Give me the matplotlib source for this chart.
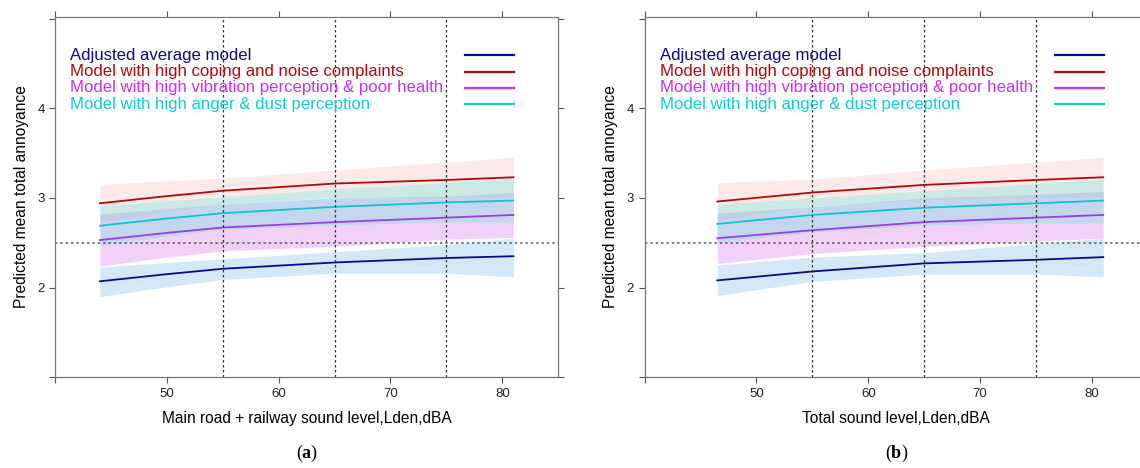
import numpy as np
import matplotlib
matplotlib.use("Agg")
import matplotlib.pyplot as plt

plt.rcParams['font.family'] = ['Liberation Sans', 'DejaVu Sans']
plt.rcParams['mathtext.fontset'] = 'custom'
plt.rcParams['mathtext.rm'] = 'Liberation Serif'
plt.rcParams['mathtext.bf'] = 'Liberation Serif:bold'

# model names, colours
labels = ["Adjusted average model",
          "Model with high coping and noise complaints",
          "Model with high vibration perception & poor health",
          "Model with high anger & dust perception"]
line_cols = ["#0A0A8C", "#B00A0A", "#9B3BF0", "#10C8D2"]
key_cols = ["#0A0A8C", "#B00A0A", "#CC2EF5", "#10CCD6"]
band_cols = ["#76B6E8", "#F8BCBC", "#D469EE", "#5AE8D7"]

# (a) main road + railway
xa = [44, 50, 55, 65, 75, 81]
a_fit = [[2.07, 2.15, 2.21, 2.28, 2.33, 2.35],
         [2.94, 3.02, 3.08, 3.16, 3.20, 3.23],
         [2.53, 2.61, 2.67, 2.73, 2.78, 2.81],
         [2.69, 2.77, 2.83, 2.90, 2.95, 2.97]]
a_lo = [[1.90, 2.01, 2.09, 2.16, 2.16, 2.12],
        [2.73, 2.85, 2.93, 3.01, 3.00, 3.01],
        [2.24, 2.34, 2.41, 2.46, 2.54, 2.56],
        [2.47, 2.57, 2.65, 2.70, 2.73, 2.73]]
a_hi = [[2.23, 2.28, 2.32, 2.40, 2.48, 2.55],
        [3.15, 3.19, 3.22, 3.31, 3.40, 3.45],
        [2.82, 2.88, 2.93, 3.00, 3.02, 3.06],
        [2.91, 2.97, 3.01, 3.10, 3.17, 3.21]]

# (b) total sound level
xb = [46.5, 55, 65, 75, 81]
b_fit = [[2.08, 2.18, 2.27, 2.31, 2.34],
         [2.96, 3.06, 3.145, 3.20, 3.23],
         [2.55, 2.64, 2.73, 2.78, 2.81],
         [2.71, 2.81, 2.89, 2.94, 2.97]]
b_lo = [[1.91, 2.07, 2.15, 2.15, 2.12],
        [2.75, 2.91, 2.98, 3.00, 3.01],
        [2.27, 2.38, 2.46, 2.52, 2.55],
        [2.50, 2.62, 2.70, 2.72, 2.72]]
b_hi = [[2.25, 2.34, 2.39, 2.49, 2.55],
        [3.17, 3.21, 3.31, 3.40, 3.45],
        [2.83, 2.90, 3.00, 3.04, 3.07],
        [2.93, 3.00, 3.08, 3.16, 3.21]]

xticks = [40, 50, 60, 70, 80]
xticklabels = ["", "50", "60", "70", "80"]
yticks = [1, 2, 3, 4, 5]
yticklabels = ["", "2", "3", "4", ""]
vlines = [55, 65, 75]
ref_level = 2.5


def draw_panel(ax, x, fit, lo, hi, xlabel, tag):
    for i in range(4):
        ax.fill_between(x, lo[i], hi[i], color=band_cols[i], alpha=0.3, lw=0)
    for i in range(4):
        ax.plot(x, fit[i], color=line_cols[i], lw=1.3)
    for v in vlines:
        ax.axvline(v, color="#333333", ls=(0, (2, 2)), lw=0.9)
    ax.axhline(ref_level, color="#555555", ls=(0, (1.5, 2)), lw=1.1)

    # key in the upper part of the panel
    rows = [0.893, 0.848, 0.803, 0.757]
    for i in range(4):
        ax.text(0.03, rows[i], labels[i], color=key_cols[i], fontsize=12.1,
                transform=ax.transAxes, va="center", ha="left")
        ax.plot([0.815, 0.912], [rows[i], rows[i]], color=key_cols[i], lw=1.6,
                transform=ax.transAxes)

    ax.set_xlim(40, 85)
    ax.set_ylim(1, 5.02)
    ax.set_xticks(xticks)
    ax.set_xticklabels(xticklabels)
    ax.set_yticks(yticks)
    ax.set_yticklabels(yticklabels)
    ax.tick_params(direction="out", length=4, width=0.8, color="#555555",
                   labelsize=9.5, top=True, right=True, labelcolor="#222222")
    for s in ax.spines.values():
        s.set_color("#777777")
        s.set_linewidth(0.9)
    ax.set_xlabel(xlabel, fontsize=11.2, labelpad=8)
    ax.set_ylabel("Predicted mean total annoyance", fontsize=11.2, labelpad=6)
    ax.text(0.5, -0.21, tag, transform=ax.transAxes, ha="center", va="center",
            fontsize=13)


fig = plt.figure(figsize=(11.4, 4.68), dpi=100)
ax1 = fig.add_axes([0.0484, 0.1938, 0.4412, 0.7705])
ax2 = fig.add_axes([0.5654, 0.1938, 0.4416, 0.7705])

draw_panel(ax1, xa, a_fit, a_lo, a_hi,
           "Main road + railway sound level,Lden,dBA", r"$(\mathbf{a})$")
draw_panel(ax2, xb, b_fit, b_lo, b_hi,
           "Total sound level,Lden,dBA", r"$(\mathbf{b})$")

fig.savefig("out.png", dpi=100)
